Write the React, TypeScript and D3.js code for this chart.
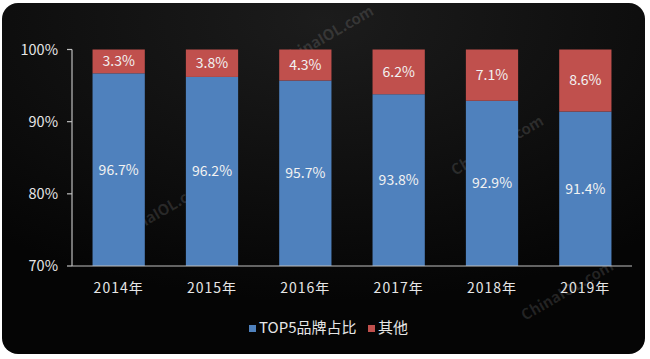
import React from "react";
import * as d3 from "d3";

const categories = ["2014年", "2015年", "2016年", "2017年", "2018年", "2019年"];
const top5Share = [96.7, 96.2, 95.7, 93.8, 92.9, 91.4];
const otherShare = [3.3, 3.8, 4.3, 6.2, 7.1, 8.6];
const yTicks = [70, 80, 90, 100];
const seriesNames = ["TOP5品牌占比", "其他"];
const seriesColors = ["#4f81bd", "#c0504d"];

const W = 650;
const H = 359;
const m = { left: 72, right: 632, top: 49.5, bottom: 266 };
const FONT = "'Noto Sans CJK SC', 'Open Sans', sans-serif";

export default function App() {
  const x = d3.scaleBand<string>().domain(categories).range([m.left, m.right]).paddingInner(0.44).paddingOuter(0.22);
  const y = d3.scaleLinear().domain([70, 100]).range([m.bottom, m.top]);
  const bw = x.bandwidth();
  const watermarks = [
    { x: 165, y: 215 },
    { x: 330, y: 40 },
    { x: 500, y: 150 },
    { x: 570, y: 295 },
  ];
  return (
    <svg width={W} height={H} style={{ position: "absolute", left: 0, top: 0, display: "block" }}>
      <defs>
        <radialGradient id="bg" cx="0.5" cy="0.05" r="0.8">
          <stop offset="0" stopColor="#1c1c1c" />
          <stop offset="1" stopColor="#050505" />
        </radialGradient>
      </defs>
      <rect x={0} y={0} width={W} height={H} fill="#ffffff" />
      <rect x={2} y={3} width={643} height={351} rx={16} fill="url(#bg)" />
      {watermarks.map((w, i) => (
        <text key={i} x={w.x} y={w.y} transform={`rotate(-30 ${w.x} ${w.y})`} textAnchor="middle"
          fontFamily={FONT} fontSize={15} fontWeight="bold" fill="#ffffff" fillOpacity={0.12}>ChinaIOL.com</text>
      ))}
      {categories.map((c, i) => {
        const bx = x(c)!;
        const yb = y(top5Share[i]);
        return (
          <g key={c}>
            <rect x={bx} y={yb} width={bw} height={m.bottom - yb} fill={seriesColors[0]} />
            <rect x={bx} y={y(100)} width={bw} height={yb - y(100)} fill={seriesColors[1]} />
            <text x={bx + bw / 2} y={(yb + m.bottom) / 2} dy="0.35em" textAnchor="middle" fontFamily={FONT}
              fontSize={14} fill="#f2f2f2">{top5Share[i].toFixed(1)}%</text>
            <text x={bx + bw / 2} y={(yb + y(100)) / 2} dy="0.35em" textAnchor="middle" fontFamily={FONT}
              fontSize={14} fill="#f2f2f2">{otherShare[i].toFixed(1)}%</text>
            <text x={bx + bw / 2} y={293} textAnchor="middle" fontFamily={FONT} fontSize={14}
              letterSpacing={1} fill="#e6e6e6">{c}</text>
          </g>
        );
      })}
      <line x1={m.left} x2={m.left} y1={m.top} y2={m.bottom} stroke="#bfbfbf" strokeWidth={1.2} />
      <line x1={m.left} x2={m.right} y1={m.bottom} y2={m.bottom} stroke="#bfbfbf" strokeWidth={1.2} />
      {yTicks.map((t) => (
        <g key={t}>
          <line x1={m.left - 5} x2={m.left} y1={y(t)} y2={y(t)} stroke="#bfbfbf" strokeWidth={1.2} />
          <text x={m.left - 14} y={y(t)} dy="0.35em" textAnchor="end" fontFamily={FONT} fontSize={14.5}
            fill="#e6e6e6">{t}%</text>
        </g>
      ))}
      <g>
        <rect x={249} y={325} width={7} height={7} fill={seriesColors[0]} />
        <text x={259} y={333} fontFamily={FONT} fontSize={15} fill="#e6e6e6">{seriesNames[0]}</text>
        <rect x={368} y={325} width={7} height={7} fill={seriesColors[1]} />
        <text x={378} y={333} fontFamily={FONT} fontSize={15} fill="#e6e6e6">{seriesNames[1]}</text>
      </g>
    </svg>
  );
}
